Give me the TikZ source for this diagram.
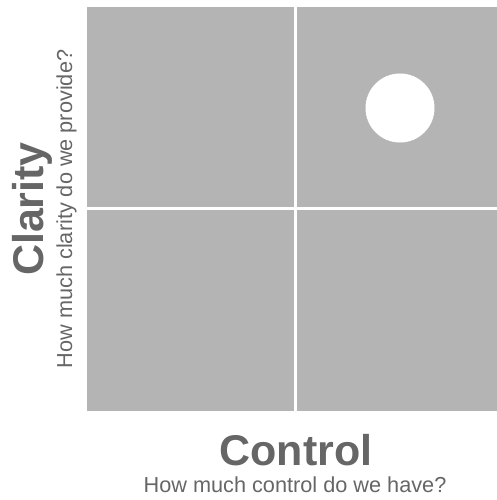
\documentclass[tikz,border=0pt]{standalone}
\usepackage{fontspec}
\setmainfont{Liberation Sans}
\definecolor{cell}{HTML}{B4B4B4}
\definecolor{txt}{HTML}{666666}
\begin{document}
\begin{tikzpicture}[x=1pt,y=-1pt,
  cellbox/.style={fill=cell,draw=none},
  divider/.style={draw=white,line width=3pt},
  title/.style={text=txt,font=\fontsize{43}{43}\selectfont\bfseries,inner sep=0pt},
  subtitle/.style={text=txt,font=\fontsize{21.7}{22}\selectfont,inner sep=0pt}]
\useasboundingbox (0,0) rectangle (497,500);
\fill[cellbox] (87,7) rectangle (497,411);
\draw[divider] (295.5,7) -- (295.5,411);
\draw[divider] (87,208.7) -- (497,208.7);
\node[fill=white,circle,minimum size=69pt,inner sep=0pt] (dot) at (400,108) {};
\node[title,anchor=base] (ctl) at (296,465) {Control};
\node[subtitle,anchor=base] (ctlsub) at (295,492) {How much control do we have?};
\node[title,anchor=base,rotate=90] (cla) at (43,209) {Clarity};
\node[subtitle,anchor=base,rotate=90] (clasub) at (72,209) {How much clarity do we provide?};
\end{tikzpicture}
\end{document}
